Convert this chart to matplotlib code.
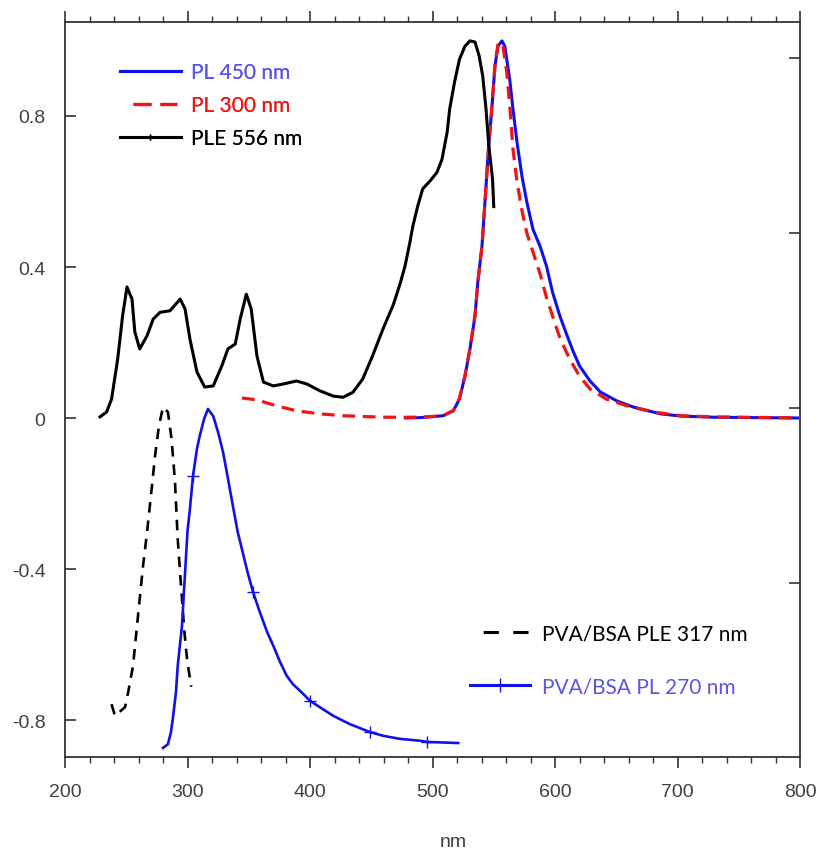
import matplotlib
matplotlib.use("Agg")
import matplotlib.pyplot as plt
from matplotlib.lines import Line2D

# PLE spectrum monitored at 556 nm
ple556_wl = [228.6, 234, 238, 243, 247, 250.6, 254.7, 257, 261, 267, 272, 277.6, 285.7,
             294, 298, 302, 307.7, 314, 321, 328, 333, 339, 343, 348, 352, 356.7, 362,
             370, 378, 389, 397.5, 408, 419, 427, 435, 443, 451, 459.6, 468, 473.5, 477.6,
             481.6, 484, 488, 492, 498, 503.7, 507.8, 512, 514, 518, 522, 526.5, 530.6,
             534.7, 538, 541, 543.7, 546, 549, 550]
ple556_val = [0.003, 0.016, 0.05, 0.156, 0.27, 0.347, 0.315, 0.228, 0.183, 0.218, 0.262,
              0.28, 0.284, 0.315, 0.289, 0.209, 0.122, 0.082, 0.085, 0.138, 0.183, 0.196,
              0.262, 0.328, 0.289, 0.164, 0.095, 0.085, 0.09, 0.098, 0.09, 0.072, 0.058,
              0.055, 0.068, 0.103, 0.164, 0.236, 0.30, 0.355, 0.403, 0.466, 0.509, 0.562,
              0.607, 0.628, 0.651, 0.686, 0.758, 0.818, 0.89, 0.95, 0.985, 0.999, 0.996,
              0.96, 0.906, 0.818, 0.72, 0.633, 0.56]

# PL spectrum, excitation 450 nm
pl450_wl = [478, 490, 508.6, 517, 522, 526.5, 530.6, 534.7, 537, 540.4, 543, 545.7, 548.6,
            551, 553.5, 556.7, 559, 560.6, 563, 565.7, 569, 573, 577, 582, 587.8, 593,
            598, 604, 610, 615, 620, 628.6, 637, 650.6, 664, 686, 703, 730, 800]
pl450_val = [0.0, 0.001, 0.006, 0.019, 0.05, 0.111, 0.183, 0.27, 0.36, 0.455, 0.58, 0.712,
             0.827, 0.933, 0.985, 0.999, 0.985, 0.95, 0.898, 0.818, 0.73, 0.641, 0.572,
             0.5, 0.455, 0.403, 0.333, 0.27, 0.217, 0.175, 0.138, 0.098, 0.069, 0.045,
             0.029, 0.011, 0.005, 0.002, 0.0]

# PL spectrum, excitation 300 nm
pl300_wl = [344.5, 356.7, 373, 389, 408, 427, 460, 490, 508.6, 517, 522, 526.5, 530.6,
            534.7, 537, 540.4, 543, 545.7, 548.6, 551, 553.7, 557.5, 560.6, 563.3, 565.7,
            569, 573, 577, 582, 588, 593, 598, 604, 612, 620, 628.6, 642, 659, 680, 703,
            730, 800]
pl300_val = [0.053, 0.048, 0.032, 0.019, 0.011, 0.006, 0.002, 0.002, 0.006, 0.02, 0.052,
             0.112, 0.185, 0.272, 0.36, 0.455, 0.58, 0.712, 0.83, 0.935, 0.996, 0.985,
             0.917, 0.818, 0.712, 0.625, 0.55, 0.49, 0.44, 0.38, 0.32, 0.27, 0.212, 0.156,
             0.111, 0.077, 0.05, 0.032, 0.016, 0.006, 0.003, 0.0]

# PVA/BSA PLE monitored at 317 nm (offset trace)
bsa_ple_wl = [238, 240.8, 249, 251.6, 255.5, 259.6, 263.7, 267, 271, 273.5, 276.7, 280,
              284, 287, 289.8, 292, 295.5, 297.5, 299.6, 303]
bsa_ple_val = [-0.758, -0.789, -0.766, -0.726, -0.657, -0.524, -0.392, -0.302, -0.18,
               -0.1, -0.021, 0.029, 0.016, -0.056, -0.17, -0.32, -0.48, -0.567, -0.638,
               -0.712]

# PVA/BSA PL, excitation 270 nm (offset trace)
bsa_pl_wl = [280, 284, 286.5, 288, 290.6, 292, 295.5, 298, 300, 302, 304.5, 307.7, 310,
             313.5, 316.7, 321, 325, 329, 333, 337, 341, 345, 349, 353.5, 359, 365, 370,
             375.5, 381, 386, 392, 400, 408, 419, 432.6, 449, 460, 473.5, 490, 495.5, 521]
bsa_pl_val = [-0.874, -0.864, -0.832, -0.797, -0.726, -0.657, -0.55, -0.41, -0.30, -0.24,
              -0.153, -0.082, -0.047, -0.003, 0.024, 0.005, -0.038, -0.09, -0.16, -0.232,
              -0.302, -0.355, -0.408, -0.461, -0.514, -0.567, -0.603, -0.646, -0.683,
              -0.705, -0.723, -0.749, -0.766, -0.789, -0.811, -0.832, -0.842, -0.85,
              -0.855, -0.858, -0.861]
bsa_pl_marks = [10, 23, 31, 35, 39]

x_ticks = [200, 300, 400, 500, 600, 700, 800]
y_ticks = [-0.8, -0.4, 0, 0.4, 0.8]
y_ticklabels = ["-0.8", "-0.4", "0", "0.4", "0.8"]
right_ticks = [-0.437, 0.026, 0.491, 0.954]

BLUE = "#1010e8"
RED = "#ee1515"
BLUE_TXT = "#5a55e6"
AX_COL = "#333333"
LBL_COL = "#404040"

fig = plt.figure(figsize=(8.21, 8.53), dpi=100)
ax = fig.add_axes([65 / 821, 1 - 758 / 853, 735 / 821, 735 / 853])

ax.plot(pl450_wl, pl450_val, color=BLUE, lw=2.2, zorder=3)
ax.plot(pl300_wl, pl300_val, color=RED, lw=2.3, dashes=(4, 2.4), zorder=4)
ax.plot(ple556_wl, ple556_val, color="black", lw=2.2, zorder=5)
ax.plot(bsa_ple_wl, bsa_ple_val, color="black", lw=1.9, dashes=(4, 3), zorder=3)
ax.plot(bsa_pl_wl, bsa_pl_val, color=BLUE, lw=1.9, marker="+", markersize=9,
        markeredgewidth=1.0, markevery=bsa_pl_marks, zorder=3)

ax.set_xlim(200, 800)
ax.set_ylim(-0.898, 1.049)
ax.set_xticks(x_ticks)
ax.set_xticks(range(200, 801, 20), minor=True)
ax.set_yticks(y_ticks)
ax.set_yticklabels(y_ticklabels)

for sp in ax.spines.values():
    sp.set_color(AX_COL)
    sp.set_linewidth(1.3)

tick_font = dict(family="Liberation Sans", size=14)
ax.tick_params(axis="x", which="major", direction="out", length=8, width=1.2,
               top=True, colors=AX_COL, labelcolor=LBL_COL, pad=11)
ax.tick_params(axis="x", which="minor", direction="out", length=4, width=1.0,
               top=True, colors=AX_COL)
ax.tick_params(axis="y", which="major", direction="in", length=8, width=1.2,
               right=False, colors=AX_COL, labelcolor=LBL_COL, pad=14)
for lab in ax.get_xticklabels() + ax.get_yticklabels():
    lab.set_fontfamily(tick_font["family"])
    lab.set_fontsize(tick_font["size"])

ax.set_xlabel("nm", fontsize=14, family="Liberation Sans", color=LBL_COL)
ax.xaxis.set_label_coords(0.528, -0.104)

ax2 = ax.twinx()
ax2.set_ylim(ax.get_ylim())
ax2.set_yticks(right_ticks)
ax2.tick_params(axis="y", direction="in", length=8, width=1.2, colors=AX_COL,
                labelright=False)
for sp in ax2.spines.values():
    sp.set_visible(False)

# legends
leg_font = dict(family="Lato", size=15)
h1 = [Line2D([], [], color=BLUE, lw=2.2),
      Line2D([], [], color=RED, lw=2.3, dashes=(0, 4.1, 5.6, 2.8, 5.3, 10),
             dash_capstyle="butt"),
      Line2D([], [], color="black", lw=2.2, marker="|", markersize=5,
             markeredgewidth=1.0)]
leg1 = ax.legend(h1, ["PL 450 nm", "PL 300 nm", "PLE 556 nm"], loc="upper left",
                 bbox_to_anchor=(0.075, 0.9455), frameon=False, prop=leg_font,
                 handlelength=2.9, handletextpad=0.5, labelspacing=0.63,
                 borderpad=0, borderaxespad=0, numpoints=1,
                 labelcolor=[BLUE_TXT, RED, "black"])
ax.add_artist(leg1)

h2 = [Line2D([], [], color="black", lw=2.2, dashes=(0, 4.3, 5, 4.7, 5, 10),
             dash_capstyle="butt"),
      Line2D([], [], color=BLUE, lw=2.2, marker="+", markersize=10,
             markeredgewidth=1.0)]
leg2 = ax2.legend(h2, ["PVA/BSA PLE 317 nm", "PVA/BSA PL 270 nm"], loc="upper left",
                  bbox_to_anchor=(0.551, 0.182), frameon=False, prop=leg_font,
                  handlelength=2.9, handletextpad=0.55, labelspacing=1.59,
                  borderpad=0, borderaxespad=0, numpoints=1,
                  labelcolor=["black", BLUE_TXT])

fig.savefig("out.png", dpi=100)
